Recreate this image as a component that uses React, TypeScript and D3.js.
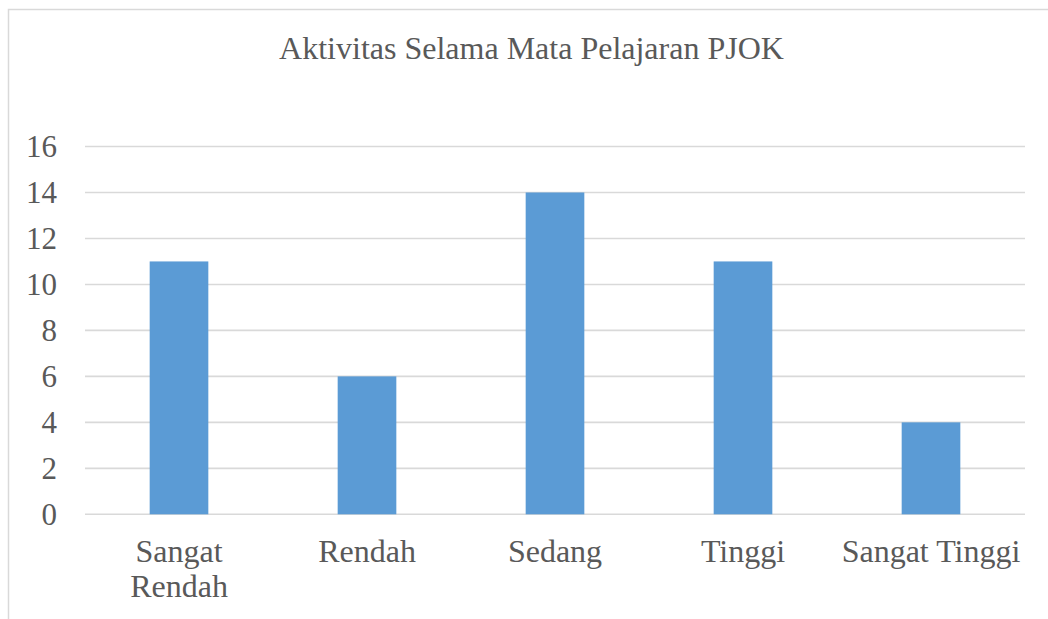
import React, { useEffect, useRef } from "react";
import * as d3 from "d3";

const categories = ["Sangat Rendah", "Rendah", "Sedang", "Tinggi", "Sangat Tinggi"];
const values = [11, 6, 14, 11, 4];
const yTicks = [0, 2, 4, 6, 8, 10, 12, 14, 16];
const title = "Aktivitas Selama Mata Pelajaran PJOK";

const W = 1048;
const H = 619;
const FONT = "Liberation Serif, Times New Roman, Times, serif";
const TEXT = "#595959";

export default function App() {
  const ref = useRef<SVGSVGElement | null>(null);

  useEffect(() => {
    const svg = d3.select(ref.current);
    svg.selectAll("*").remove();

    const x = d3.scaleBand<string>().domain(categories).range([85, 1025]).paddingInner(0.688).paddingOuter(0.344);
    const y = d3.scaleLinear().domain([0, 16]).range([514.3, 146.5]);

    svg.append("rect").attr("x", 8.5).attr("y", 9.5).attr("width", 1200).attr("height", 800)
      .attr("fill", "#fff").attr("stroke", "#D9D9D9").attr("stroke-width", 1.5);

    svg.append("text").attr("x", 531.5).attr("y", 59).attr("text-anchor", "middle")
      .style("font-family", FONT).attr("font-size", 32).attr("fill", TEXT).text(title);

    const g = svg.append("g");
    g.selectAll("line.grid").data(yTicks).join("line")
      .attr("x1", 85).attr("x2", 1025)
      .attr("y1", (d) => y(d)).attr("y2", (d) => y(d))
      .attr("stroke", "#D9D9D9").attr("stroke-width", 1.6);

    g.selectAll("text.tick").data(yTicks).join("text")
      .attr("x", 57).attr("y", (d) => y(d)).attr("dy", "0.35em")
      .attr("text-anchor", "end").style("font-family", FONT).attr("font-size", 31)
      .attr("fill", TEXT).text((d) => String(d));

    g.selectAll("rect.bar").data(values).join("rect")
      .attr("x", (_d, i) => x(categories[i]) as number)
      .attr("width", x.bandwidth())
      .attr("y", (d) => y(d))
      .attr("height", (d) => y(0) - y(d))
      .attr("fill", "#5B9BD5");

    const step = x.step();
    categories.forEach((c) => {
      const cx = (x(c) as number) + x.bandwidth() / 2;
      const t = g.append("text").attr("x", cx).attr("y", 562).attr("text-anchor", "middle")
        .style("font-family", FONT).attr("font-size", 32).attr("fill", TEXT);
      const words = c.split(" ");
      const lines: string[] = [];
      let cur = "";
      const probe = g.append("text").style("font-family", FONT).attr("font-size", 32);
      words.forEach((w) => {
        const cand = cur ? cur + " " + w : w;
        probe.text(cand);
        const len = (probe.node() as SVGTextElement).getComputedTextLength();
        if (len > step && cur) {
          lines.push(cur);
          cur = w;
        } else cur = cand;
      });
      probe.remove();
      lines.push(cur);
      lines.forEach((l, i) => {
        t.append("tspan").attr("x", cx).attr("y", 562 + i * 35).text(l);
      });
    });
  }, []);

  return (
    <svg ref={ref} width={W} height={H} style={{ position: "absolute", left: 0, top: 0, background: "#fff" }} />
  );
}
